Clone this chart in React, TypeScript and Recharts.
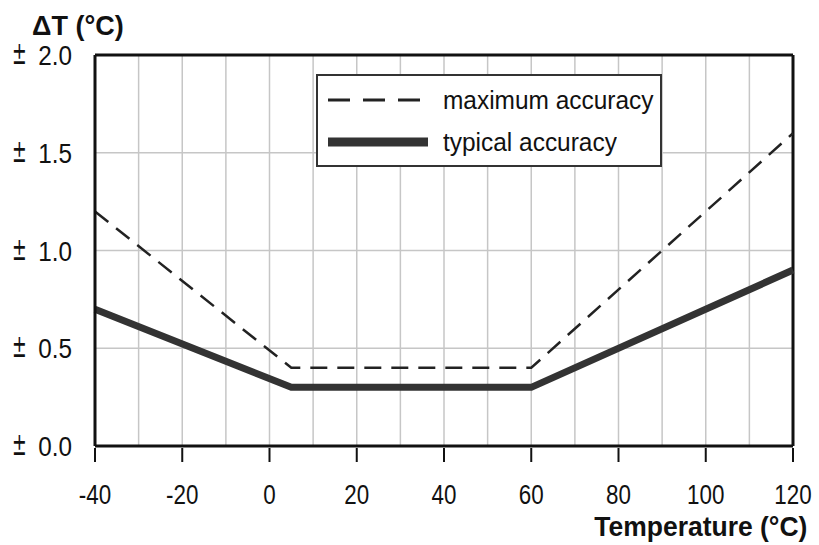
import React from 'react';
import { LineChart, Line, XAxis, YAxis, CartesianGrid, ReferenceLine } from 'recharts';

const temps = [-40, 5, 60, 120];
const maxAccuracy = [1.2, 0.4, 0.4, 1.6];
const typicalAccuracy = [0.7, 0.3, 0.3, 0.9];
const xTicks = [-40, -30, -20, -10, 0, 10, 20, 30, 40, 50, 60, 70, 80, 90, 100, 110, 120];
const yTicks = [0, 0.5, 1, 1.5, 2];
const seriesNames = ['maximum accuracy', 'typical accuracy'];

const data = temps.map((t, i) => ({ t, max: maxAccuracy[i], typ: typicalAccuracy[i] }));

const FONT = '"Liberation Sans", Arial, sans-serif';

// only every second tick (multiples of 20) gets a mark and a label
const XTick = (props: any) => {
  const { x, y, payload } = props;
  if (payload.value % 20 !== 0) return null;
  return (
    <g>
      <line x1={x} x2={x} y1={y} y2={y + 14} stroke="#111" strokeWidth={2} />
      <text
        transform={`translate(${x}, ${y + 56}) scale(0.8, 1)`}
        textAnchor="middle"
        fill="#111"
        fontSize={28}
        fontFamily={FONT}
      >
        {payload.value}
      </text>
    </g>
  );
};

const YTick = (props: any) => {
  const { x, y, payload } = props;
  return (
    <g>
      <text
        transform={`translate(${x - 60}, ${y + 9}) scale(0.55, 1)`}
        fill="#111"
        fontSize={32}
        fontFamily='"DejaVu Sans", sans-serif'
      >
        ±
      </text>
      <text
        transform={`translate(${x}, ${y + 10}) scale(0.9, 1)`}
        textAnchor="end"
        fill="#111"
        fontSize={27}
        fontFamily={FONT}
      >
        {payload.value.toFixed(1)}
      </text>
    </g>
  );
};

export default function App() {
  return (
    <div style={{ position: 'absolute', left: 0, top: 0, width: 819, height: 545, background: '#fff', fontFamily: FONT }}>
      <LineChart width={819} height={545} data={data} margin={{ top: 55, right: 26, left: 0, bottom: 39 }}>
        <CartesianGrid stroke="#c6c6c6" strokeWidth={1.5} />
        <XAxis
          dataKey="t"
          type="number"
          domain={[-40, 120]}
          ticks={xTicks}
          interval={0}
          height={60}
          tickSize={0}
          tickLine={false}
          axisLine={{ stroke: '#111', strokeWidth: 3 }}
          tick={<XTick />}
        />
        <YAxis
          type="number"
          domain={[0, 2]}
          ticks={yTicks}
          width={95}
          tickSize={0}
          tickMargin={23}
          tickLine={false}
          axisLine={{ stroke: '#111', strokeWidth: 3 }}
          tick={<YTick />}
        />
        <ReferenceLine y={2} stroke="#111" strokeWidth={3} />
        <ReferenceLine x={120} stroke="#111" strokeWidth={3} />
        <Line
          dataKey="max"
          name={seriesNames[0]}
          stroke="#222"
          strokeWidth={2.5}
          strokeDasharray="17 10"
          dot={false}
          isAnimationActive={false}
        />
        <Line
          dataKey="typ"
          name={seriesNames[1]}
          stroke="#333"
          strokeWidth={7}
          dot={false}
          isAnimationActive={false}
        />
      </LineChart>
      <div style={{ position: 'absolute', left: 32, top: 8, fontSize: 27, fontWeight: 'bold', color: '#111', lineHeight: '36px' }}>
        ΔT (°C)
      </div>
      <div
        style={{
          position: 'absolute',
          right: 12,
          top: 509,
          fontSize: 27,
          fontWeight: 'bold',
          color: '#111',
          lineHeight: '36px',
          whiteSpace: 'nowrap',
          transform: 'scaleX(0.98)',
          transformOrigin: 'right',
        }}
      >
        Temperature (°C)
      </div>
      <div
        style={{
          position: 'absolute',
          left: 316,
          top: 74,
          width: 342,
          height: 89,
          border: '2px solid #333',
          background: '#fff',
        }}
      >
        <svg width={120} height={89} style={{ position: 'absolute', left: 0, top: 0 }}>
          <line x1={10} x2={102} y1={24} y2={24} stroke="#222" strokeWidth={3} strokeDasharray="22 13" />
          <line x1={10} x2={110} y1={66} y2={66} stroke="#333" strokeWidth={9} />
        </svg>
        <div
          style={{
            position: 'absolute',
            left: 125,
            top: 8,
            fontSize: 26,
            color: '#111',
            lineHeight: '32px',
            whiteSpace: 'nowrap',
            transform: 'scaleX(0.94)',
            transformOrigin: 'left',
          }}
        >
          {seriesNames[0]}
        </div>
        <div
          style={{
            position: 'absolute',
            left: 125,
            top: 50,
            fontSize: 26,
            color: '#111',
            lineHeight: '32px',
            whiteSpace: 'nowrap',
            transform: 'scaleX(0.94)',
            transformOrigin: 'left',
          }}
        >
          {seriesNames[1]}
        </div>
      </div>
    </div>
  );
}
